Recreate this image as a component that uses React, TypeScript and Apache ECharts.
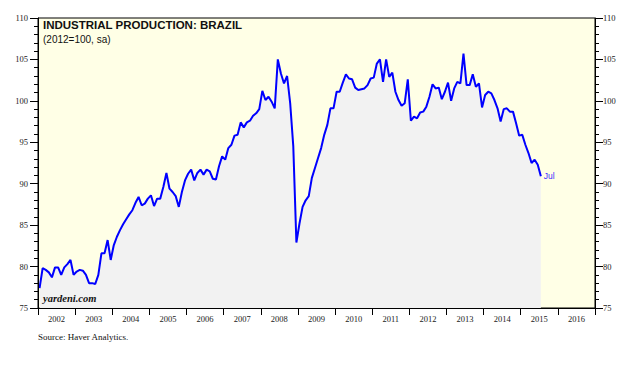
import React, { useEffect, useRef } from 'react';
import * as echarts from 'echarts';

const years = ['2002', '2003', '2004', '2005', '2006', '2007', '2008', '2009', '2010', '2011', '2012', '2013', '2014', '2015', '2016'];
const monthNames = ['Jan', 'Feb', 'Mar', 'Apr', 'May', 'Jun', 'Jul', 'Aug', 'Sep', 'Oct', 'Nov', 'Dec'];

const v2002 = [77.4, 79.8, 79.6, 79.3, 78.7, 79.9, 79.9, 79.0, 79.9, 80.3, 80.8, 79.0];
const v2003 = [79.4, 79.6, 79.5, 79.0, 78.0, 78.0, 77.9, 79.0, 81.6, 81.6, 83.2, 80.8];
const v2004 = [82.6, 83.6, 84.4, 85.1, 85.7, 86.3, 86.8, 87.7, 88.4, 87.4, 87.6, 88.2];
const v2005 = [88.6, 87.3, 88.2, 88.2, 89.6, 91.3, 89.4, 89.0, 88.5, 87.2, 89.0, 90.4];
const v2006 = [91.2, 91.7, 90.4, 91.3, 91.7, 91.1, 91.7, 91.5, 90.6, 90.5, 92.1, 93.3];
const v2007 = [92.9, 94.3, 94.7, 95.8, 95.9, 97.4, 96.8, 97.4, 97.6, 98.2, 98.5, 99.0];
const v2008 = [101.2, 100.1, 100.5, 99.9, 99.1, 105.0, 103.3, 102.1, 103.0, 99.7, 94.5, 82.9];
const v2009 = [85.2, 87.2, 88.0, 88.5, 90.7, 91.9, 93.1, 94.3, 95.9, 97.1, 99.1, 99.1];
const v2010 = [101.1, 101.1, 102.2, 103.2, 102.7, 102.6, 101.6, 101.3, 101.4, 101.5, 101.9, 102.7];
const v2011 = [102.8, 104.5, 105.0, 102.3, 105.0, 102.9, 103.4, 101.1, 100.1, 99.4, 99.7, 102.6];
const v2012 = [97.6, 98.1, 97.9, 98.6, 98.7, 99.3, 100.5, 102.0, 101.5, 101.6, 100.2, 101.1];
const v2013 = [102.2, 100.0, 101.5, 102.3, 102.1, 105.7, 101.9, 101.9, 103.2, 101.7, 102.1, 99.2];
const v2014 = [100.7, 101.1, 100.9, 100.1, 99.1, 97.5, 99.0, 99.1, 98.7, 98.7, 97.3, 95.8];
const v2015 = [95.9, 94.7, 93.7, 92.5, 92.9, 92.3, 90.9];

const yTicksMin = 75;
const yTicksMax = 110;
const yTickStep = 5;

const titleText = 'INDUSTRIAL PRODUCTION: BRAZIL';
const subtitleText = '(2012=100, sa)';
const sourceText = 'Source: Haver Analytics.';
const brandText = 'yardeni.com';
const endText = 'Jul';

export default function App() {
  const ref = useRef<HTMLDivElement>(null);

  useEffect(() => {
    if (!ref.current) return;
    const chart = echarts.init(ref.current, undefined, { renderer: 'svg' });

    const months: string[] = [];
    years.forEach((y) => monthNames.forEach((m) => months.push(m + ' ' + y)));
    const values = [
      ...v2002, ...v2003, ...v2004, ...v2005, ...v2006, ...v2007, ...v2008,
      ...v2009, ...v2010, ...v2011, ...v2012, ...v2013, ...v2014, ...v2015,
    ];

    const serif = 'Liberation Serif';
    const sans = 'Liberation Sans';
    const labelColor = '#1a1a1a';

    const yAxisBase = {
      type: 'value',
      min: yTicksMin,
      max: yTicksMax,
      interval: yTickStep,
      z: 5,
      axisLine: { show: true, lineStyle: { color: '#000', width: 1 } },
      axisTick: { show: true, inside: false, length: 8, lineStyle: { color: '#000', width: 1 } },
      minorTick: { show: true, splitNumber: 5, length: 4, lineStyle: { color: '#000', width: 1 } },
      splitLine: { show: false },
    };

    chart.setOption({
      animation: false,
      title: {
        text: titleText,
        subtext: subtitleText,
        left: 43,
        top: 19,
        padding: 0,
        itemGap: 3,
        textStyle: { fontFamily: sans, fontSize: 11.5, fontWeight: 'bold', color: '#111' },
        subtextStyle: { fontFamily: sans, fontSize: 10, color: '#111' },
      },
      grid: {
        left: 38,
        right: 34,
        top: 18,
        bottom: 61,
        show: true,
        backgroundColor: '#FFFFE6',
        borderColor: '#000',
        borderWidth: 1,
      },
      xAxis: [
        {
          type: 'category',
          data: years,
          boundaryGap: true,
          position: 'bottom',
          z: 5,
          axisLine: { show: true, lineStyle: { color: '#000', width: 1 } },
          axisTick: { show: true, inside: false, length: 7, interval: 0, lineStyle: { color: '#000', width: 1 } },
          axisLabel: { interval: 0, fontFamily: serif, fontSize: 8.5, color: labelColor, margin: 6 },
          splitLine: { show: false },
        },
        {
          type: 'category',
          data: months,
          boundaryGap: true,
          show: false,
        },
      ],
      yAxis: [
        {
          ...yAxisBase,
          position: 'left',
          axisLabel: { fontFamily: serif, fontSize: 8.5, color: labelColor, margin: 10 },
        },
        {
          ...yAxisBase,
          position: 'right',
          axisLabel: { fontFamily: serif, fontSize: 8.5, color: labelColor, margin: 8 },
        },
      ],
      series: [
        {
          type: 'line',
          xAxisIndex: 1,
          yAxisIndex: 0,
          data: values,
          symbol: 'none',
          z: 3,
          lineStyle: { color: '#0000FF', width: 2 },
          areaStyle: { color: '#F2F2F2', opacity: 1, origin: 'start' },
          endLabel: {
            show: true,
            formatter: endText,
            color: '#3d2bff',
            fontFamily: sans,
            fontSize: 8.5,
            distance: 3,
          },
        },
      ],
      graphic: [
        {
          type: 'text',
          left: 43,
          top: 293,
          z: 10,
          style: {
            text: brandText,
            fontFamily: serif,
            fontSize: 10.5,
            fontWeight: 'bold',
            fontStyle: 'italic',
            fill: '#111',
          },
        },
        {
          type: 'text',
          left: 38,
          top: 332,
          style: { text: sourceText, fontFamily: serif, fontSize: 9, fill: '#111' },
        },
      ],
    });

    return () => chart.dispose();
  }, []);

  return (
    <div
      ref={ref}
      style={{ position: 'fixed', left: 0, top: 0, width: 629, height: 369, background: '#fff' }}
    />
  );
}
